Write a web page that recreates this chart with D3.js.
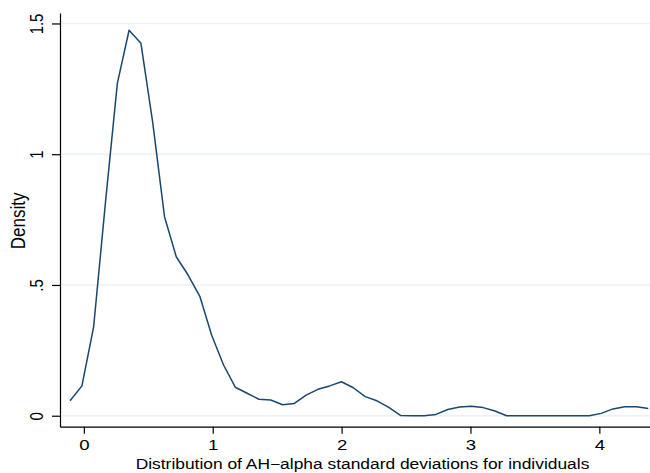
<!DOCTYPE html>
<html>
<head>
<meta charset="utf-8">
<script src="https://cdn.jsdelivr.net/npm/d3@7"></script>
<style>
  html, body { margin: 0; padding: 0; background: #fff; }
  svg { display: block; }
  text { font-family: "Liberation Sans", Arial, Helvetica, sans-serif; fill: #000; }
</style>
</head>
<body>
<svg id="chart" width="650" height="473"></svg>
<script>
// Kernel density estimate evaluated on 50 points
const gridX = [
  -0.107, -0.015, 0.076, 0.168, 0.260, 0.351, 0.443, 0.534, 0.626, 0.717,
  0.809, 0.901, 0.992, 1.084, 1.175, 1.267, 1.358, 1.450, 1.542, 1.633,
  1.725, 1.816, 1.908, 1.999, 2.091, 2.183, 2.274, 2.366, 2.457, 2.549,
  2.640, 2.732, 2.824, 2.915, 3.007, 3.098, 3.190, 3.281, 3.373, 3.465,
  3.556, 3.648, 3.739, 3.831, 3.922, 4.014, 4.106, 4.197, 4.289, 4.380
];
const density = [
  0.057, 0.114, 0.340, 0.817, 1.271, 1.474, 1.424, 1.123, 0.761, 0.608,
  0.538, 0.455, 0.308, 0.194, 0.109, 0.086, 0.063, 0.060, 0.042, 0.047,
  0.079, 0.101, 0.114, 0.130, 0.107, 0.073, 0.057, 0.032, 0.001, 0.000,
  0.000, 0.005, 0.024, 0.033, 0.036, 0.031, 0.018, 0.000, 0.000, 0.000,
  0.000, 0.000, 0.000, 0.000, 0.000, 0.009, 0.026, 0.034, 0.034, 0.028
];
const xTicks = [0, 1, 2, 3, 4];
const yTicks = [0, 0.5, 1, 1.5];
const yTickLabels = ["0", ".5", "1", "1.5"];
const xTitle = "Distribution of AH\u2212alpha standard deviations for individuals";
const yTitle = "Density";

const svg = d3.select("#chart");
const plotLeft = 60, plotRight = 650, plotTop = 13, plotBottom = 426.7;

const x = d3.scaleLinear().domain([-0.185, 4.393]).range([plotLeft, plotRight]);
const y = d3.scaleLinear().domain([-0.042, 1.54]).range([plotBottom, plotTop]);

// horizontal gridlines
svg.append("g")
  .selectAll("line")
  .data(yTicks)
  .join("line")
  .attr("x1", plotLeft).attr("x2", plotRight)
  .attr("y1", d => y(d)).attr("y2", d => y(d))
  .attr("stroke", "#eaf2f3").attr("stroke-width", 1.4);

// density curve
const line = d3.line()
  .x((d, i) => x(gridX[i]))
  .y(d => y(d));
svg.append("path")
  .datum(density)
  .attr("d", line)
  .attr("fill", "none")
  .attr("stroke", "#1a476f")
  .attr("stroke-width", 1.5)
  .attr("stroke-linejoin", "round");

// y axis
const yAxis = svg.append("g")
  .attr("transform", `translate(${plotLeft},0)`)
  .call(d3.axisLeft(y).tickValues(yTicks)
    .tickFormat((d, i) => yTickLabels[i])
    .tickSize(8).tickSizeOuter(0));
yAxis.select(".domain").attr("stroke", "#000").attr("stroke-width", 1.2);
yAxis.selectAll(".tick line").attr("stroke", "#000").attr("stroke-width", 1.2);
yAxis.selectAll(".tick text")
  .attr("x", null).attr("dy", null)
  .attr("text-anchor", "middle")
  .style("font-size", "15px")
  .attr("transform", "translate(-17,0) scale(1.2,1) rotate(-90)");

// x axis
const xAxis = svg.append("g")
  .attr("transform", `translate(0,${plotBottom})`)
  .call(d3.axisBottom(x).tickValues(xTicks)
    .tickFormat(d3.format("d"))
    .tickSize(7).tickSizeOuter(0));
xAxis.select(".domain").attr("stroke", "#000").attr("stroke-width", 1.2);
xAxis.selectAll(".tick line").attr("stroke", "#000").attr("stroke-width", 1.2);
xAxis.selectAll(".tick text")
  .attr("y", null).attr("dy", null)
  .attr("text-anchor", "middle")
  .style("font-size", "15.5px")
  .attr("transform", "translate(0,23.5) scale(1.2,1)");

// axis titles
svg.append("text")
  .attr("text-anchor", "middle")
  .style("font-size", "14.5px")
  .attr("transform", `translate(${(135 + 590) / 2},468.5) scale(1.2,1)`)
  .text(xTitle);

svg.append("text")
  .attr("text-anchor", "middle")
  .style("font-size", "17px")
  .attr("transform", `translate(25,${(plotTop + plotBottom) / 2 + 1}) scale(1.2,1) rotate(-90)`)
  .text(yTitle);
</script>
</body>
</html>
